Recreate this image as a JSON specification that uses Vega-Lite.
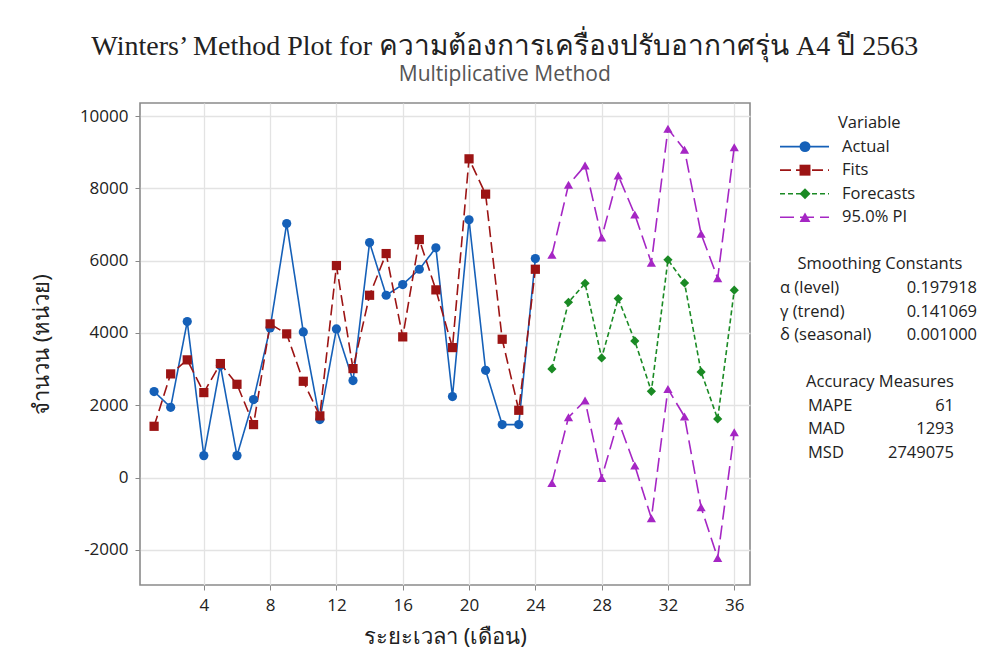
{
  "$schema": "https://vega.github.io/schema/vega-lite/v6.json",
  "background": "white",
  "padding": {"left": 29, "top": 33, "right": 10, "bottom": 10},
  "title": {
    "text": "Winters’ Method Plot for ความต้องการเครื่องปรับอากาศรุ่น A4 ปี 2563",
    "subtitle": "Multiplicative Method",
    "anchor": "middle",
    "font": "Liberation Serif",
    "fontSize": 28,
    "fontWeight": "normal",
    "color": "#222",
    "subtitleFont": "Open Sans",
    "subtitleFontSize": 21,
    "subtitleColor": "#555",
    "subtitlePadding": 3,
    "offset": 17
  },
  "datasets": {
    "series": [
      {"t": 1, "var": "Actual", "line": "a", "value": 2380},
      {"t": 2, "var": "Actual", "line": "a", "value": 1945},
      {"t": 3, "var": "Actual", "line": "a", "value": 4315},
      {"t": 4, "var": "Actual", "line": "a", "value": 608},
      {"t": 5, "var": "Actual", "line": "a", "value": 3098},
      {"t": 6, "var": "Actual", "line": "a", "value": 608},
      {"t": 7, "var": "Actual", "line": "a", "value": 2158},
      {"t": 8, "var": "Actual", "line": "a", "value": 4141},
      {"t": 9, "var": "Actual", "line": "a", "value": 7026},
      {"t": 10, "var": "Actual", "line": "a", "value": 4030},
      {"t": 11, "var": "Actual", "line": "a", "value": 1604},
      {"t": 12, "var": "Actual", "line": "a", "value": 4113},
      {"t": 13, "var": "Actual", "line": "a", "value": 2683},
      {"t": 14, "var": "Actual", "line": "a", "value": 6500},
      {"t": 15, "var": "Actual", "line": "a", "value": 5043},
      {"t": 16, "var": "Actual", "line": "a", "value": 5339},
      {"t": 17, "var": "Actual", "line": "a", "value": 5762},
      {"t": 18, "var": "Actual", "line": "a", "value": 6354},
      {"t": 19, "var": "Actual", "line": "a", "value": 2240},
      {"t": 20, "var": "Actual", "line": "a", "value": 7129},
      {"t": 21, "var": "Actual", "line": "a", "value": 2968},
      {"t": 22, "var": "Actual", "line": "a", "value": 1466},
      {"t": 23, "var": "Actual", "line": "a", "value": 1466},
      {"t": 24, "var": "Actual", "line": "a", "value": 6058},
      {"t": 1, "var": "Fits", "line": "f", "value": 1419},
      {"t": 2, "var": "Fits", "line": "f", "value": 2868},
      {"t": 3, "var": "Fits", "line": "f", "value": 3256},
      {"t": 4, "var": "Fits", "line": "f", "value": 2351},
      {"t": 5, "var": "Fits", "line": "f", "value": 3154},
      {"t": 6, "var": "Fits", "line": "f", "value": 2581},
      {"t": 7, "var": "Fits", "line": "f", "value": 1466},
      {"t": 8, "var": "Fits", "line": "f", "value": 4252},
      {"t": 9, "var": "Fits", "line": "f", "value": 3975},
      {"t": 10, "var": "Fits", "line": "f", "value": 2664},
      {"t": 11, "var": "Fits", "line": "f", "value": 1707},
      {"t": 12, "var": "Fits", "line": "f", "value": 5864},
      {"t": 13, "var": "Fits", "line": "f", "value": 3015},
      {"t": 14, "var": "Fits", "line": "f", "value": 5043},
      {"t": 15, "var": "Fits", "line": "f", "value": 6196},
      {"t": 16, "var": "Fits", "line": "f", "value": 3892},
      {"t": 17, "var": "Fits", "line": "f", "value": 6584},
      {"t": 18, "var": "Fits", "line": "f", "value": 5192},
      {"t": 19, "var": "Fits", "line": "f", "value": 3596},
      {"t": 20, "var": "Fits", "line": "f", "value": 8816},
      {"t": 21, "var": "Fits", "line": "f", "value": 7840},
      {"t": 22, "var": "Fits", "line": "f", "value": 3826},
      {"t": 23, "var": "Fits", "line": "f", "value": 1862},
      {"t": 24, "var": "Fits", "line": "f", "value": 5762},
      {"t": 25, "var": "Forecasts", "line": "fc", "value": 3007},
      {"t": 26, "var": "Forecasts", "line": "fc", "value": 4850},
      {"t": 27, "var": "Forecasts", "line": "fc", "value": 5375},
      {"t": 28, "var": "Forecasts", "line": "fc", "value": 3311},
      {"t": 29, "var": "Forecasts", "line": "fc", "value": 4951},
      {"t": 30, "var": "Forecasts", "line": "fc", "value": 3781},
      {"t": 31, "var": "Forecasts", "line": "fc", "value": 2387},
      {"t": 32, "var": "Forecasts", "line": "fc", "value": 6022},
      {"t": 33, "var": "Forecasts", "line": "fc", "value": 5385},
      {"t": 34, "var": "Forecasts", "line": "fc", "value": 2924},
      {"t": 35, "var": "Forecasts", "line": "fc", "value": 1624},
      {"t": 36, "var": "Forecasts", "line": "fc", "value": 5182},
      {"t": 25, "var": "95.0% PI", "line": "u", "value": 6160},
      {"t": 26, "var": "95.0% PI", "line": "u", "value": 8097},
      {"t": 27, "var": "95.0% PI", "line": "u", "value": 8631},
      {"t": 28, "var": "95.0% PI", "line": "u", "value": 6639},
      {"t": 29, "var": "95.0% PI", "line": "u", "value": 8354},
      {"t": 30, "var": "95.0% PI", "line": "u", "value": 7275},
      {"t": 31, "var": "95.0% PI", "line": "u", "value": 5939},
      {"t": 32, "var": "95.0% PI", "line": "u", "value": 9646},
      {"t": 33, "var": "95.0% PI", "line": "u", "value": 9065},
      {"t": 34, "var": "95.0% PI", "line": "u", "value": 6741},
      {"t": 35, "var": "95.0% PI", "line": "u", "value": 5514},
      {"t": 36, "var": "95.0% PI", "line": "u", "value": 9137},
      {"t": 25, "var": "95.0% PI", "line": "l", "value": -147},
      {"t": 26, "var": "95.0% PI", "line": "l", "value": 1668},
      {"t": 27, "var": "95.0% PI", "line": "l", "value": 2130},
      {"t": 28, "var": "95.0% PI", "line": "l", "value": -8},
      {"t": 29, "var": "95.0% PI", "line": "l", "value": 1577},
      {"t": 30, "var": "95.0% PI", "line": "l", "value": 332},
      {"t": 31, "var": "95.0% PI", "line": "l", "value": -1125},
      {"t": 32, "var": "95.0% PI", "line": "l", "value": 2453},
      {"t": 33, "var": "95.0% PI", "line": "l", "value": 1687},
      {"t": 34, "var": "95.0% PI", "line": "l", "value": -821},
      {"t": 35, "var": "95.0% PI", "line": "l", "value": -2221},
      {"t": 36, "var": "95.0% PI", "line": "l", "value": 1253}
    ],
    "legend": [
      {"row": 1, "var": "Actual"},
      {"row": 2, "var": "Fits"},
      {"row": 3, "var": "Forecasts"},
      {"row": 4, "var": "95.0% PI"}
    ],
    "stats": [
      {"row": 0, "section": "legend", "kind": "head", "name": "Variable", "value": ""},
      {"row": 6, "section": "smooth", "kind": "head", "name": "Smoothing Constants", "value": ""},
      {"row": 7, "section": "smooth", "kind": "item", "name": "α (level)", "value": "0.197918"},
      {"row": 8, "section": "smooth", "kind": "item", "name": "γ (trend)", "value": "0.141069"},
      {"row": 9, "section": "smooth", "kind": "item", "name": "δ (seasonal)", "value": "0.001000"},
      {"row": 11, "section": "accuracy", "kind": "head", "name": "Accuracy Measures", "value": ""},
      {"row": 12, "section": "accuracy", "kind": "item", "name": "MAPE", "value": "61"},
      {"row": 13, "section": "accuracy", "kind": "item", "name": "MAD", "value": "1293"},
      {"row": 14, "section": "accuracy", "kind": "item", "name": "MSD", "value": "2749075"}
    ]
  },
  "config": {
    "view": {"stroke": null},
    "font": "Open Sans",
    "text": {"font": "Open Sans", "fontSize": 16.5, "color": "#222"},
    "axis": {
      "labelFont": "Open Sans",
      "labelFontSize": 17,
      "labelColor": "#222",
      "titleFont": "Noto Sans",
      "titleFontSize": 22,
      "titleFontWeight": "normal",
      "titleColor": "#222",
      "gridColor": "#e3e3e3",
      "gridWidth": 1.3,
      "tickColor": "#888",
      "tickSize": 5,
      "domain": false
    }
  },
  "hconcat": [
    {
      "width": 610,
      "height": 482,
      "view": {"stroke": "#8a8a8a", "strokeWidth": 1.6},
      "data": {"name": "series"},
      "encoding": {
        "x": {
          "field": "t", "type": "quantitative",
          "scale": {"domain": [0.15, 36.95], "nice": false, "zero": false},
          "axis": {"values": [4, 8, 12, 16, 20, 24, 28, 32, 36], "title": "ระยะเวลา (เดือน)", "titlePadding": 13, "labelPadding": 7}
        },
        "y": {
          "field": "value", "type": "quantitative",
          "scale": {"domain": [-2970, 10360], "nice": false, "zero": false},
          "axis": {"values": [-2000, 0, 2000, 4000, 6000, 8000, 10000], "labelExpr": "'' + datum.value", "title": "จำนวน (หน่วย)", "titlePadding": 26, "labelPadding": 7}
        },
        "color": {
          "field": "var", "type": "nominal",
          "scale": {"domain": ["Actual", "Fits", "Forecasts", "95.0% PI"], "range": ["#1560b8", "#9c1414", "#1a8a24", "#a526c4"]},
          "legend": null
        }
      },
      "layer": [
        {
          "mark": {"type": "line", "strokeWidth": 1.6},
          "encoding": {
            "detail": {"field": "line"},
            "strokeDash": {
              "field": "var", "type": "nominal",
              "scale": {"domain": ["Actual", "Fits", "Forecasts", "95.0% PI"], "range": [[1, 0], [11, 5], [5, 3], [14, 6]]},
              "legend": null
            }
          }
        },
        {
          "mark": {"type": "point", "filled": true, "opacity": 1, "size": 85},
          "encoding": {
            "shape": {
              "field": "var", "type": "nominal",
              "scale": {"domain": ["Actual", "Fits", "Forecasts", "95.0% PI"], "range": ["circle", "square", "diamond", "triangle-up"]},
              "legend": null
            }
          }
        }
      ]
    },
    {
      "width": 200,
      "height": 482,
      "layer": [
        {
          "data": {"name": "legend"},
          "mark": {"type": "rule", "strokeWidth": 1.6},
          "encoding": {
            "x": {"datum": 0, "type": "quantitative", "scale": {"domain": [0, 100], "nice": false}, "axis": null},
            "x2": {"datum": 24.5},
            "y": {"field": "row", "type": "quantitative", "scale": {"domain": [-0.85, 19.6], "nice": false, "zero": false, "reverse": true}, "axis": null},
            "color": {
              "field": "var", "type": "nominal",
              "scale": {"domain": ["Actual", "Fits", "Forecasts", "95.0% PI"], "range": ["#1560b8", "#9c1414", "#1a8a24", "#a526c4"]},
              "legend": null
            },
            "strokeDash": {
              "field": "var", "type": "nominal",
              "scale": {"domain": ["Actual", "Fits", "Forecasts", "95.0% PI"], "range": [[1, 0], [16, 4], [6, 5], [22, 6]]},
              "legend": null
            }
          }
        },
        {
          "data": {"name": "legend"},
          "mark": {"type": "point", "filled": true, "opacity": 1, "size": 120},
          "encoding": {
            "x": {"datum": 12.5, "type": "quantitative"},
            "y": {"field": "row", "type": "quantitative"},
            "color": {"field": "var", "type": "nominal", "legend": null},
            "shape": {
              "field": "var", "type": "nominal",
              "scale": {"domain": ["Actual", "Fits", "Forecasts", "95.0% PI"], "range": ["circle", "square", "diamond", "triangle-up"]},
              "legend": null
            }
          }
        },
        {
          "data": {"name": "legend"},
          "mark": {"type": "text", "align": "left", "baseline": "middle"},
          "encoding": {
            "x": {"datum": 31, "type": "quantitative"},
            "y": {"field": "row", "type": "quantitative"},
            "text": {"field": "var"}
          }
        },
        {
          "data": {"name": "stats"},
          "transform": [{"filter": "datum.section == 'legend'"}],
          "mark": {"type": "text", "align": "left", "baseline": "middle"},
          "encoding": {
            "x": {"datum": 29, "type": "quantitative"},
            "y": {"field": "row", "type": "quantitative"},
            "text": {"field": "name"}
          }
        },
        {
          "data": {"name": "stats"},
          "transform": [{"filter": "datum.kind == 'head' && datum.section != 'legend'"}],
          "mark": {"type": "text", "align": "center", "baseline": "middle"},
          "encoding": {
            "x": {"datum": 50, "type": "quantitative"},
            "y": {"field": "row", "type": "quantitative"},
            "text": {"field": "name"}
          }
        },
        {
          "data": {"name": "stats"},
          "transform": [{"filter": "datum.kind == 'item' && datum.section == 'smooth'"}],
          "mark": {"type": "text", "align": "left", "baseline": "middle"},
          "encoding": {
            "x": {"datum": 0, "type": "quantitative"},
            "y": {"field": "row", "type": "quantitative"},
            "text": {"field": "name"}
          }
        },
        {
          "data": {"name": "stats"},
          "transform": [{"filter": "datum.kind == 'item' && datum.section == 'smooth'"}],
          "mark": {"type": "text", "align": "right", "baseline": "middle"},
          "encoding": {
            "x": {"datum": 98.5, "type": "quantitative"},
            "y": {"field": "row", "type": "quantitative"},
            "text": {"field": "value"}
          }
        },
        {
          "data": {"name": "stats"},
          "transform": [{"filter": "datum.kind == 'item' && datum.section == 'accuracy'"}],
          "mark": {"type": "text", "align": "left", "baseline": "middle"},
          "encoding": {
            "x": {"datum": 14, "type": "quantitative"},
            "y": {"field": "row", "type": "quantitative"},
            "text": {"field": "name"}
          }
        },
        {
          "data": {"name": "stats"},
          "transform": [{"filter": "datum.kind == 'item' && datum.section == 'accuracy'"}],
          "mark": {"type": "text", "align": "right", "baseline": "middle"},
          "encoding": {
            "x": {"datum": 87, "type": "quantitative"},
            "y": {"field": "row", "type": "quantitative"},
            "text": {"field": "value"}
          }
        }
      ]
    }
  ],
  "spacing": 28
}
